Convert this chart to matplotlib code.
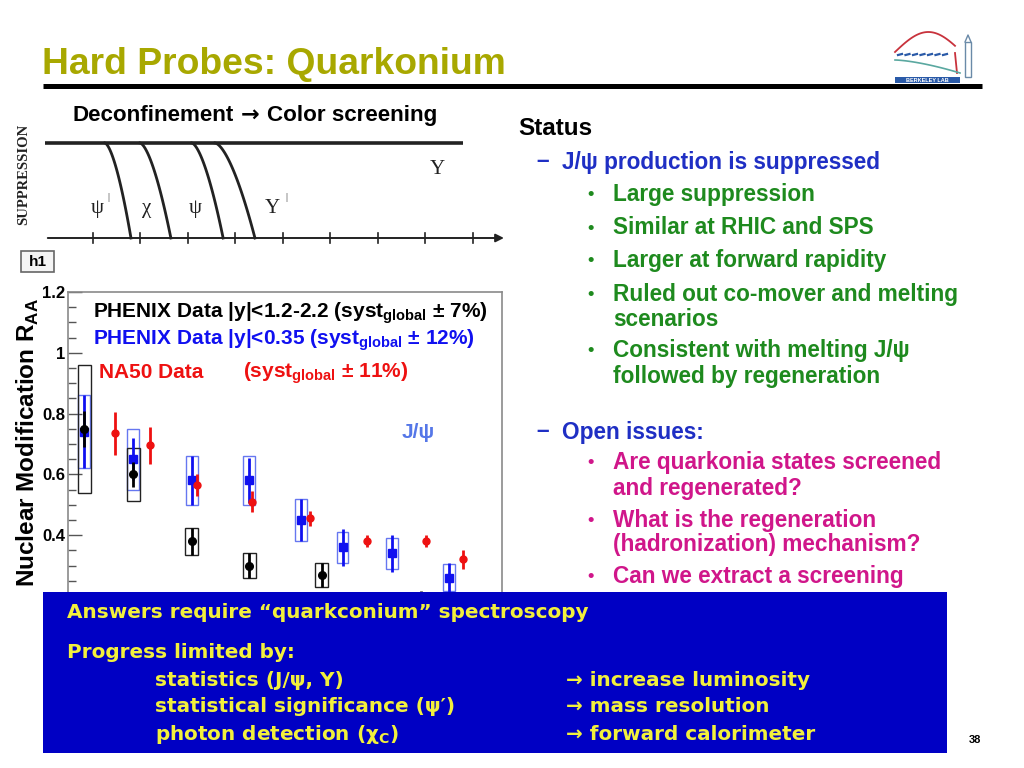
import numpy as np
import matplotlib
matplotlib.use('Agg')
import matplotlib.pyplot as plt
from matplotlib.patches import Rectangle
from matplotlib.ticker import MultipleLocator, FixedLocator

plt.rcParams['font.family'] = ['Liberation Sans', 'DejaVu Sans']
plt.rcParams['mathtext.fontset'] = 'custom'
plt.rcParams['mathtext.bf'] = 'Liberation Sans:bold'
plt.rcParams['mathtext.rm'] = 'Liberation Sans'
plt.rcParams['mathtext.sf'] = 'DejaVu Sans:bold'

# ---------------- data (J/psi R_AA vs Npart) ----------------
npart_fwd = [15, 60, 114, 167, 234, 325]
raa_fwd = [0.75, 0.60, 0.38, 0.30, 0.27, 0.18]
stat_fwd = [0.06, 0.04, 0.045, 0.04, 0.04, 0.035]
sys_fwd = [0.21, 0.088, 0.045, 0.04, 0.04, 0.03]

npart_mid = [15, 60, 114, 167, 215, 253, 299, 351]
raa_mid = [0.74, 0.65, 0.58, 0.58, 0.45, 0.36, 0.34, 0.26]
stat_mid = [0.12, 0.07, 0.08, 0.075, 0.07, 0.06, 0.06, 0.05]
sys_mid = [0.12, 0.10, 0.08, 0.08, 0.07, 0.05, 0.05, 0.045]

npart_na50 = [43, 76, 119, 170, 223, 276, 330, 364]
raa_na50 = [0.735, 0.695, 0.565, 0.51, 0.455, 0.38, 0.38, 0.32]
stat_na50 = [0.07, 0.06, 0.035, 0.035, 0.025, 0.02, 0.02, 0.03]

yticks = [0.4, 0.6, 0.8, 1.0, 1.2]
ytick_labels = ['0.4', '0.6', '0.8', '1', '1.2']

# ---------------- sketch (sequential suppression) ----------------
sketch_ticks = [1, 2, 3, 4, 5, 6, 7, 8, 9]
melt_start = [1.26, 2.00, 3.09, 3.58]
melt_end = [1.81, 2.65, 3.75, 4.42]

W, H = 1024, 768
fig = plt.figure(figsize=(W / 100, H / 100), dpi=100)
fig.patch.set_facecolor('white')

# ---------------- sketch axes ----------------
sk = fig.add_axes([40 / W, 1 - 245 / H, 470 / W, 145 / H], zorder=1)
sk.set_xlim((40 - 45) / 47.5, (510 - 45) / 47.5)
sk.set_ylim((238 - 245) / 95, (238 - 100) / 95)
sk.axis('off')
sk.annotate('', xy=(9.72, 0), xytext=(0, 0),
            arrowprops=dict(arrowstyle='-|>', color='#222222', lw=1.4, mutation_scale=12))
sk.annotate('', xy=(0, 1.46), xytext=(0, 0),
            arrowprops=dict(arrowstyle='-|>', color='#222222', lw=1.4, mutation_scale=12))
sk.plot([0, 8.8], [1, 1], color='#222222', lw=2.6, solid_capstyle='butt')
for t in sketch_ticks:
    sk.plot([t, t], [-0.05, 0.05], color='#222222', lw=1.2)
for x0, x1 in zip(melt_start, melt_end):
    tt = np.linspace(0, 1, 80)
    sk.plot(x0 + (x1 - x0) * tt, 1 - tt ** 1.6, color='#222222', lw=2.0)
serif = ['Liberation Serif', 'DejaVu Serif']
kw_s = dict(family=serif, ha='center', va='center', color='#222222')
sk.text(1.09, 0.31, 'ψ', fontsize=15, **kw_s)
sk.text(1.33, 0.43, '|', fontsize=7, **kw_s)
sk.text(2.13, 0.31, 'χ', fontsize=15, **kw_s)
sk.text(3.16, 0.31, 'ψ', fontsize=15, **kw_s)
sk.text(4.78, 0.31, 'Υ', fontsize=15, **kw_s)
sk.text(5.08, 0.43, '|', fontsize=7, **kw_s)
sk.text(8.25, 0.72, 'Υ', fontsize=15, **kw_s)

# ---------------- data axes ----------------
ax = fig.add_axes([68 / W, 1 - 599 / H, 434 / W, 307 / H], zorder=1)
ax.set_xlim(0, 400)
ax.set_ylim(0.19, 1.2)
for s in ax.spines.values():
    s.set_color('#8a8a8a')
    s.set_linewidth(1.2)
ax.yaxis.set_major_locator(FixedLocator(yticks))
ax.set_yticklabels(ytick_labels, fontsize=12, fontweight='bold')
ax.yaxis.set_minor_locator(MultipleLocator(0.05))
ax.tick_params(axis='y', which='major', direction='in', length=10, width=1, color='#555555', pad=2)
ax.tick_params(axis='y', which='minor', direction='in', length=6, width=1, color='#555555')
ax.tick_params(axis='x', which='both', bottom=False, labelbottom=False)

for x, y, s in zip(npart_mid, raa_mid, sys_mid):
    ax.add_patch(Rectangle((x - 5.5, y - s), 11, 2 * s, fill=False, ec='#6677f0', lw=1.0, zorder=2))
for x, y, s in zip(npart_fwd, raa_fwd, sys_fwd):
    ax.add_patch(Rectangle((x - 6, y - s), 12, 2 * s, fill=False, ec='#222222', lw=1.0, zorder=2))

ax.errorbar(npart_mid, raa_mid, yerr=stat_mid, fmt='s', color='#1010f0', ms=6,
            elinewidth=2, capsize=0, zorder=3)
ax.errorbar(npart_fwd, raa_fwd, yerr=stat_fwd, fmt='o', color='black', ms=5.5,
            elinewidth=2, capsize=0, zorder=4)
ax.errorbar(npart_na50, raa_na50, yerr=stat_na50, fmt='o', color='#ee1111', ms=5,
            elinewidth=2, capsize=0, zorder=4)

# ---------------- overlay (pixel coordinates) ----------------
ov = fig.add_axes([0, 0, 1, 1], zorder=10)
ov.set_xlim(0, W)
ov.set_ylim(H, 0)
ov.axis('off')
ov.patch.set_alpha(0)
renderer = fig.canvas.get_renderer()


def seq_text(x, y, pieces, **kw):
    """Draw text pieces one after another on a common baseline."""
    for s, gap, extra in pieces:
        x += gap
        t = ov.text(x, y, s, ha='left', va='baseline', **{**kw, **extra})
        x += t.get_window_extent(renderer=renderer).width


# legend texts of data plot
ov.text(93, 313, r'PHENIX Data |y|<1.2-2.2 (syst$_{\mathbf{global}}$ ± 7%)', fontsize=15,
        fontweight='bold', color='black', va='center', ha='left')
ov.text(93, 340, r'PHENIX Data |y|<0.35 (syst$_{\mathbf{global}}$ ± 12%)', fontsize=15,
        fontweight='bold', color='#1010f0', va='center', ha='left')
ov.text(99, 373, 'NA50 Data', fontsize=15, fontweight='bold', color='#ee1111', va='center', ha='left')
ov.text(243, 373, r'(syst$_{\mathbf{global}}$ ± 11%)', fontsize=15, fontweight='bold',
        color='#ee1111', va='center', ha='left')
ov.text(418, 433, 'J/ψ', fontsize=15, fontweight='bold', color='#5577e8', va='center', ha='center')
ov.text(28, 442, r'Nuclear Modification R$_{\mathbf{AA}}$', fontsize=17.5, fontweight='bold',
        rotation=90, va='center', ha='center')

# h1 box
ov.add_patch(Rectangle((21, 251), 33, 21, fc='#f4f4f4', ec='#666666', lw=1.2))
ov.text(37.5, 262, 'h1', fontsize=11, fontweight='bold', ha='center', va='center')

# sketch texts
ov.text(24, 174, 'SUPPRESSION', family=serif, fontsize=10.5, fontweight='bold', rotation=90,
        ha='center', va='center', color='#222222')
seq_text(72, 121, [('Deconfinement', 0, {}),
                   ('→', 7, {'family': ['DejaVu Sans']}),
                   ('Color screening', 8, {})],
         fontsize=16.1, fontweight='bold', color='black')

# title
ov.text(42, 65, 'Hard Probes: Quarkonium', fontsize=26.8, fontweight='bold', color='#a8a800',
        ha='left', va='center')
ov.plot([43, 982], [85.5, 85.5], color='black', lw=3.6, solid_capstyle='butt')

# logo (rough)
tt = np.linspace(0, 1, 60)
ov.plot(895 + 60 * tt, 52 - 20 * np.sin(np.pi * tt * 0.9), color='#c8323c', lw=1.3)
ov.plot([955, 957], [53, 73], color='#c8323c', lw=1.3)
for k in range(7):
    ov.plot([898 + 7.5 * k, 902 + 7.5 * k], [55, 54], color='#2a5aa8', lw=1.6)
ov.plot(895 + 65 * tt, 60 + 13 * tt ** 1.5, color='#5aa8a0', lw=1.2)
ov.add_patch(Rectangle((965, 42), 6, 35, fc='none', ec='#6a8aa8', lw=1))
ov.plot([965, 968, 971], [42, 35, 42], color='#6a8aa8', lw=1)
ov.add_patch(Rectangle((895, 77), 65, 6, fc='#2a5aa8', ec='none'))
ov.text(927, 80, 'BERKELEY LAB', fontsize=4, color='white', fontweight='bold', ha='center', va='center')

# right column text
blue_t = '#1f2fc4'
green_t = '#1e8a1e'
mag_t = '#d0168a'
fs = 16.3
ov.text(518, 128.5, 'Status', fontsize=17.5, fontweight='bold', ha='left', va='center')
ov.text(543, 161, '–', fontsize=fs, fontweight='bold', color=blue_t, ha='center', va='center')
ov.text(562, 162, 'J/ψ production is suppressed', fontsize=fs, fontweight='bold', color=blue_t,
        ha='left', va='center')
green_lines = [(195, True, 'Large suppression'), (228, True, 'Similar at RHIC and SPS'),
               (261, True, 'Larger at forward rapidity'), (294, True, 'Ruled out co-mover and melting'),
               (319, False, 'scenarios'), (351, True, 'Consistent with melting J/ψ'),
               (376, False, 'followed by regeneration')]
for y, bullet, s in green_lines:
    if bullet:
        ov.text(591, y, '•', fontsize=13, fontweight='bold', color=green_t, ha='center', va='center')
    ov.text(613, y, s, fontsize=fs, fontweight='bold', color=green_t, ha='left', va='center')
ov.text(543, 431, '–', fontsize=fs, fontweight='bold', color=blue_t, ha='center', va='center')
ov.text(562, 432, 'Open issues:', fontsize=fs, fontweight='bold', color=blue_t, ha='left', va='center')
mag_lines = [(463, True, 'Are quarkonia states screened'), (488, False, 'and regenerated?'),
             (520, True, 'What is the regeneration'), (545, False, '(hadronization) mechanism?'),
             (577, True, 'Can we extract a screening')]
for y, bullet, s in mag_lines:
    if bullet:
        ov.text(591, y, '•', fontsize=13, fontweight='bold', color=mag_t, ha='center', va='center')
    ov.text(613, y, s, fontsize=fs, fontweight='bold', color=mag_t, ha='left', va='center')

# blue box
ov.add_patch(Rectangle((43, 592), 904, 161, fc='#0000c4', ec='none', zorder=5))
yel = '#f2f03c'
bfont = ['DejaVu Sans']
bfs = 14.4
kw_b = dict(family=bfont, fontsize=bfs, fontweight='bold', color=yel, ha='left', va='center', zorder=6)
ov.text(67, 612, 'Answers require “quarkconium” spectroscopy', **kw_b)
ov.text(67, 653, 'Progress limited by:', **kw_b)
ov.text(155, 680, 'statistics (J/ψ, Υ)', **kw_b)
ov.text(155, 707, 'statistical significance (ψ′)', **kw_b)
ov.text(155, 734, r'photon detection (χ$_{\mathsf{C}}$)', **kw_b)
ov.text(566, 680, '→ increase luminosity', **kw_b)
ov.text(566, 707, '→ mass resolution', **kw_b)
ov.text(566, 734, '→ forward calorimeter', **kw_b)
ov.text(975, 740, '38', fontsize=8, fontweight='bold', ha='center', va='center')

fig.savefig('out.png', dpi=100)
